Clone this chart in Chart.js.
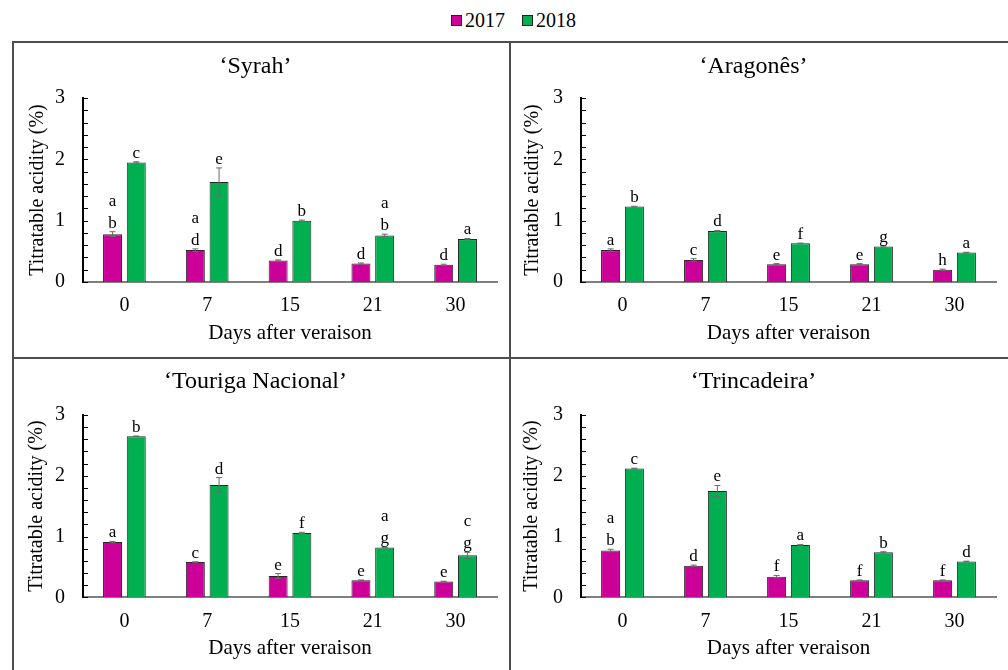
<!DOCTYPE html>
<html>
<head>
<meta charset="utf-8">
<script src="https://cdn.jsdelivr.net/npm/chart.js@4.4.1/dist/chart.umd.min.js"></script>
<style>
  html, body { margin: 0; padding: 0; background: #fff; }
  body { width: 1008px; height: 670px; position: relative; overflow: hidden;
         font-family: "Liberation Serif", "Times New Roman", serif; }
  .panel { position: absolute; }
  .rule { position: absolute; background: #4d4d4d; }
  #legend { position: absolute; left: 451px; top: 8px; font-size: 20px; line-height: 24px;
            display: flex; align-items: center; color: #000; }
  #legend .sw { width: 9px; height: 9px; border: 1px solid #222; display: inline-block; margin-right: 3px; }
  #legend .item { display: flex; align-items: center; margin-right: 17px; }
</style>
</head>
<body>

<div id="legend"></div>

<div class="rule" style="left:13px; top:41px; width:995px; height:2px;"></div>
<div class="rule" style="left:13px; top:357px; width:995px; height:2px;"></div>
<div class="rule" style="left:12px; top:41px; width:2px; height:629px;"></div>
<div class="rule" style="left:509px; top:41px; width:2px; height:629px;"></div>

<div class="panel" style="left:14px; top:43px; width:495px; height:314px;"><canvas id="c1"></canvas></div>
<div class="panel" style="left:511px; top:43px; width:497px; height:314px;"><canvas id="c2"></canvas></div>
<div class="panel" style="left:14px; top:359px; width:495px; height:311px;"><canvas id="c3"></canvas></div>
<div class="panel" style="left:511px; top:359px; width:497px; height:311px;"><canvas id="c4"></canvas></div>

<script>
// Sampling days and seasons
const DAYS = ['0', '7', '15', '21', '30'];
const SEASONS = ['2017', '2018'];
const CULTIVARS = ['‘Syrah’', '‘Aragonês’', '‘Touriga Nacional’', '‘Trincadeira’'];
const X_TITLE = 'Days after veraison';
const Y_TITLE = 'Titratable acidity (%)';

// Titratable acidity (%) means
const SYRAH_2017 = [0.78, 0.52, 0.35, 0.30, 0.28];
const SYRAH_2018 = [1.95, 1.63, 1.00, 0.76, 0.70];
const ARAGONES_2017 = [0.52, 0.36, 0.29, 0.29, 0.20];
const ARAGONES_2018 = [1.23, 0.83, 0.63, 0.58, 0.48];
const TOURIGA_2017 = [0.91, 0.58, 0.35, 0.28, 0.26];
const TOURIGA_2018 = [2.65, 1.85, 1.06, 0.82, 0.69];
const TRINCADEIRA_2017 = [0.77, 0.52, 0.34, 0.28, 0.28];
const TRINCADEIRA_2018 = [2.12, 1.75, 0.86, 0.74, 0.59];

// Standard errors
const SYRAH_ERR_2017 = [0.04, 0.02, 0.01, 0.01, 0.01];
const SYRAH_ERR_2018 = [0.01, 0.23, 0.01, 0.02, 0.01];
const ARAGONES_ERR_2017 = [0.02, 0.02, 0.01, 0.01, 0.01];
const ARAGONES_ERR_2018 = [0.005, 0.01, 0.005, 0.01, 0.005];
const TOURIGA_ERR_2017 = [0.01, 0.005, 0.04, 0.005, 0.005];
const TOURIGA_ERR_2018 = [0.005, 0.12, 0.01, 0.005, 0.05];
const TRINCADEIRA_ERR_2017 = [0.02, 0.01, 0.02, 0.005, 0.005];
const TRINCADEIRA_ERR_2018 = [0.005, 0.09, 0.01, 0.01, 0.005];

// Significance letters above each bar (listed top to bottom)
const SYRAH_LET_2017 = [['a', 'b'], ['a', 'd'], ['d'], ['d'], ['d']];
const SYRAH_LET_2018 = [['c'], ['e'], ['b'], ['a', 'b'], ['a']];
const ARAGONES_LET_2017 = [['a'], ['c'], ['e'], ['e'], ['h']];
const ARAGONES_LET_2018 = [['b'], ['d'], ['f'], ['g'], ['a']];
const TOURIGA_LET_2017 = [['a'], ['c'], ['e'], ['e'], ['e']];
const TOURIGA_LET_2018 = [['b'], ['d'], ['f'], ['a', 'g'], ['c', 'g']];
const TRINCADEIRA_LET_2017 = [['a', 'b'], ['d'], ['f'], ['f'], ['f']];
const TRINCADEIRA_LET_2018 = [['c'], ['e'], ['a'], ['b'], ['d']];

const COLOR_2017 = '#CC0099';
const COLOR_2018 = '#00B050';
const FONT = '"Liberation Serif", "Times New Roman", serif';

// Legend
const legendEl = document.getElementById('legend');
[[SEASONS[0], COLOR_2017], [SEASONS[1], COLOR_2018]].forEach(([txt, col]) => {
  const it = document.createElement('span');
  it.className = 'item';
  const sw = document.createElement('span');
  sw.className = 'sw';
  sw.style.background = col;
  it.appendChild(sw);
  it.appendChild(document.createTextNode(txt));
  legendEl.appendChild(it);
});

// Error whiskers and significance letters drawn over the bars
const barNotes = {
  id: 'barNotes',
  afterDatasetsDraw(chart, args, opts) {
    const { ctx } = chart;
    const y = chart.scales.y;
    ctx.save();
    chart.data.datasets.forEach((ds, i) => {
      const meta = chart.getDatasetMeta(i);
      const errs = opts.errors[i];
      const notes = opts.letters[i];
      meta.data.forEach((bar, j) => {
        const v = ds.data[j], e = errs[j];
        const yHi = y.getPixelForValue(v + e);
        const yLo = y.getPixelForValue(v - e);
        ctx.strokeStyle = '#6b6b6b';
        ctx.lineWidth = 1;
        ctx.beginPath();
        ctx.moveTo(bar.x, yHi); ctx.lineTo(bar.x, yLo);
        ctx.moveTo(bar.x - 3, yHi); ctx.lineTo(bar.x + 3, yHi);
        ctx.moveTo(bar.x - 3, yLo); ctx.lineTo(bar.x + 3, yLo);
        ctx.stroke();

        ctx.fillStyle = '#000';
        ctx.font = '17px ' + FONT;
        ctx.textAlign = 'center';
        ctx.textBaseline = 'alphabetic';
        const lines = notes[j];
        for (let k = 0; k < lines.length; k++) {
          ctx.fillText(lines[lines.length - 1 - k], bar.x, Math.min(yHi, y.getPixelForValue(v)) - 4 - k * 22);
        }
      });
    });
    ctx.restore();
  }
};

// Inward tick marks on the value axis
const yTickMarks = {
  id: 'yTickMarks',
  afterDraw(chart) {
    const { ctx } = chart;
    const y = chart.scales.y;
    ctx.save();
    ctx.strokeStyle = '#000';
    ctx.lineWidth = 1;
    ctx.beginPath();
    y.ticks.forEach(t => {
      const py = Math.round(y.getPixelForValue(t.value)) + 0.5;
      ctx.moveTo(y.right, py);
      ctx.lineTo(y.right + 5, py);
    });
    ctx.stroke();
    ctx.restore();
  }
};

function makePanel(id, title, d17, d18, e17, e18, l17, l18, g) {
  new Chart(document.getElementById(id), {
    type: 'bar',
    data: {
      labels: DAYS,
      datasets: [
        { label: SEASONS[0], data: d17, backgroundColor: COLOR_2017, borderColor: '#262626',
          borderWidth: 1, categoryPercentage: 0.573, barPercentage: 0.8 },
        { label: SEASONS[1], data: d18, backgroundColor: COLOR_2018, borderColor: '#262626',
          borderWidth: 1, categoryPercentage: 0.573, barPercentage: 0.8 }
      ]
    },
    options: {
      responsive: true,
      maintainAspectRatio: false,
      animation: false,
      layout: { padding: { left: 0, right: g.right, top: 0, bottom: 0 } },
      plugins: {
        legend: { display: false },
        tooltip: { enabled: false },
        title: {
          display: true, text: title, color: '#000',
          font: { family: FONT, size: 24, weight: 'normal' },
          padding: { top: g.tt, bottom: g.tb }
        },
        barNotes: { errors: [e17, e18], letters: [l17, l18] }
      },
      scales: {
        x: {
          grid: { display: false, drawTicks: false },
          border: { display: true, color: '#7f7f7f', width: 2 },
          ticks: { color: '#000', font: { family: FONT, size: 20 }, padding: 12, maxRotation: 0 },
          title: { display: true, text: X_TITLE, color: '#000',
                   font: { family: FONT, size: 21 }, padding: { top: 0, bottom: g.xtb } },
          afterFit(s) { s.height = g.xh; }
        },
        y: {
          min: 0, max: 3,
          grid: { display: false, drawTicks: false },
          border: { display: true, color: '#000', width: 2 },
          ticks: {
            count: 16, autoSkip: false, color: '#000', padding: 18,
            font: { family: FONT, size: 20 },
            callback(v) { return Math.abs(v - Math.round(v)) < 1e-6 ? String(Math.round(v)) : ''; }
          },
          title: { display: true, text: Y_TITLE, color: '#000',
                   font: { family: FONT, size: 20 }, padding: { top: g.ytp, bottom: 0 } },
          afterFit(s) { s.width = g.yw; }
        }
      }
    },
    plugins: [barNotes, yTickMarks]
  });
}

makePanel('c1', CULTIVARS[0], SYRAH_2017, SYRAH_2018, SYRAH_ERR_2017, SYRAH_ERR_2018,
          SYRAH_LET_2017, SYRAH_LET_2018,
          { yw: 69, xh: 75, right: 12, tt: 9.6, tb: 16.6, xtb: 11, ytp: 12 });
makePanel('c2', CULTIVARS[1], ARAGONES_2017, ARAGONES_2018, ARAGONES_ERR_2017, ARAGONES_ERR_2018,
          ARAGONES_LET_2017, ARAGONES_LET_2018,
          { yw: 70, xh: 75, right: 12, tt: 9.3, tb: 16.9, xtb: 11, ytp: 10 });
makePanel('c3', CULTIVARS[2], TOURIGA_2017, TOURIGA_2018, TOURIGA_ERR_2017, TOURIGA_ERR_2018,
          TOURIGA_LET_2017, TOURIGA_LET_2018,
          { yw: 69, xh: 72.7, right: 12, tt: 8.3, tb: 18.9, xtb: 9, ytp: 10.7 });
makePanel('c4', CULTIVARS[3], TRINCADEIRA_2017, TRINCADEIRA_2018, TRINCADEIRA_ERR_2017, TRINCADEIRA_ERR_2018,
          TRINCADEIRA_LET_2017, TRINCADEIRA_LET_2018,
          { yw: 70, xh: 72.7, right: 12, tt: 8.3, tb: 18.9, xtb: 9, ytp: 8.7 });
</script>
</body>
</html>
